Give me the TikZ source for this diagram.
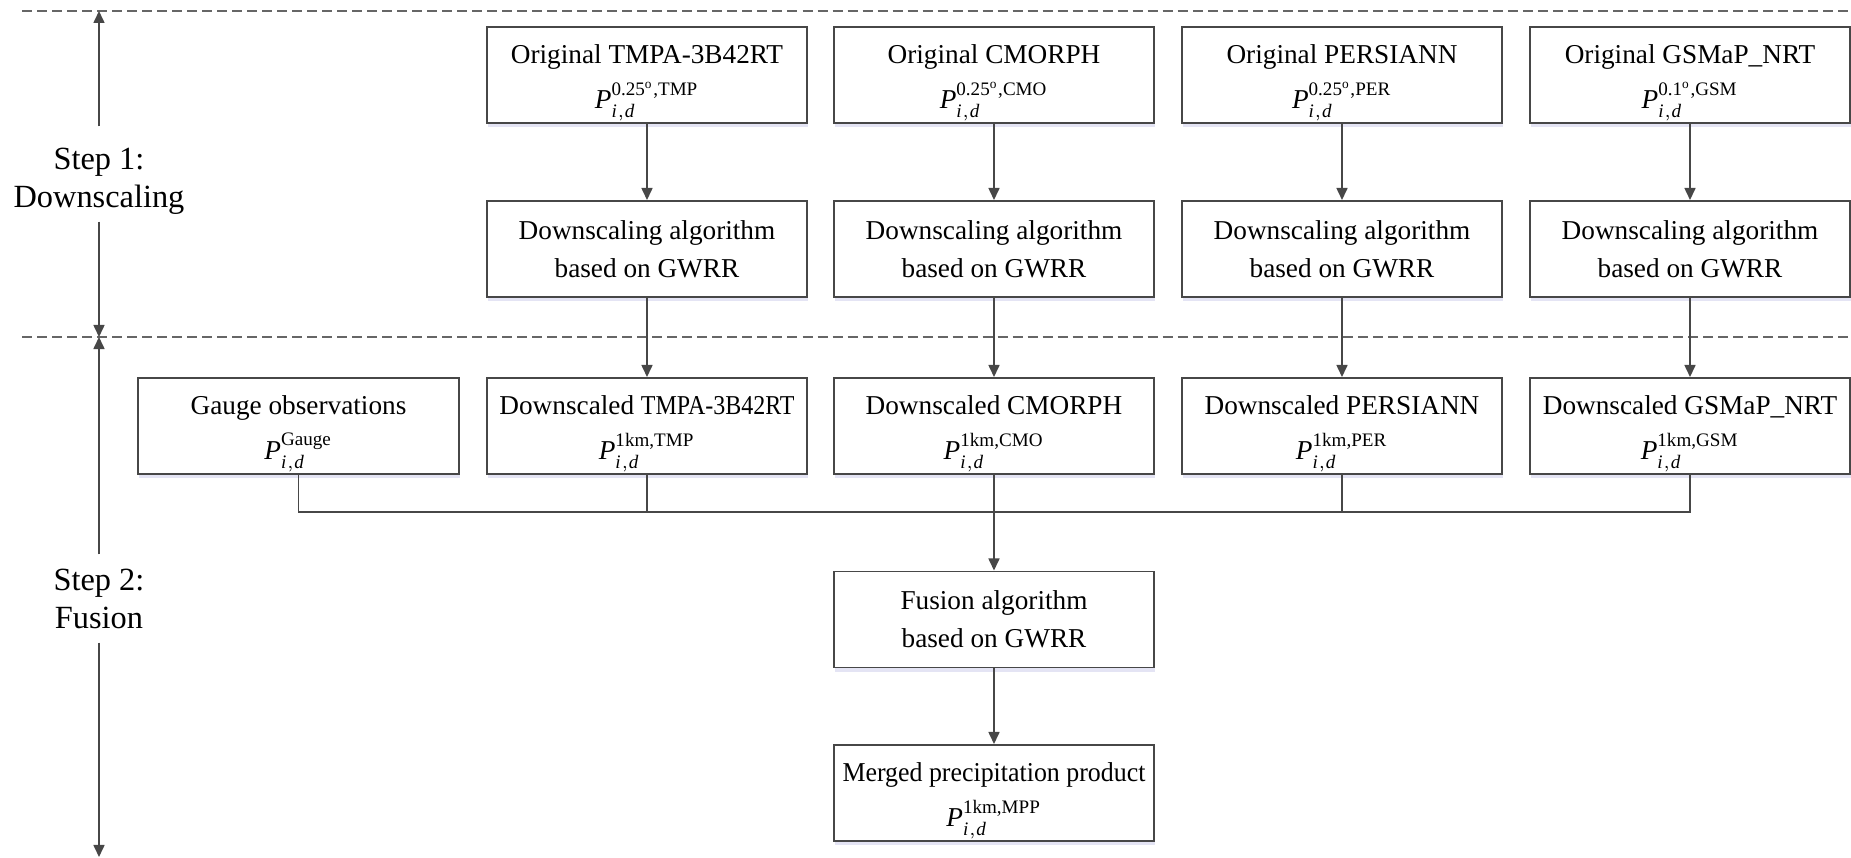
\documentclass[tikz,border=0pt]{standalone}
\usepackage{amsmath}
\usepackage{graphicx}
\usepackage{fontspec}
\setmainfont{Liberation Serif}
\usetikzlibrary{arrows.meta,shadows}
\newcommand\Pvar[1]{$\mathit{P}_{\mathit{i,d}}^{\text{#1}}$}
\newcommand\dg{\textsuperscript{o}}
\newcommand\sstrut{\rule{0pt}{10.3pt}}
\newcommand\twoline[2]{\raisebox{-3pt}[0pt][0pt]{\begin{tabular}{@{}c@{}}#1\\[2pt]#2\end{tabular}}}
\begin{document}
\begin{tikzpicture}[x=0.01cm,y=-0.01cm,
  box/.style={draw=black!72, line width=0.55pt, fill=white, minimum width=3.2cm,
    minimum height=0.96cm, inner sep=0pt, align=center,
    font=\fontsize{7.75}{10.8}\selectfont,
    drop shadow={shadow xshift=0.3pt, shadow yshift=-1.2pt, opacity=0.15, fill=blue!40!gray}},
  conn/.style={draw=black!72, line width=0.45pt},
  arr/.style={conn, -{Triangle[length=0.12cm,width=0.11cm]}},
  sepline/.style={draw=black!60, line width=0.5pt, dash pattern=on 0.1cm off 0.05cm},
  steplabel/.style={inner sep=0pt, align=center, font=\fontsize{9.2}{10.8}\selectfont}
]
\useasboundingbox (0,0) rectangle (1851,858);
% separators
\coordinate (L1) at (22,11); \coordinate (R1) at (1851,11);
\coordinate (L2) at (22,337); \coordinate (R2) at (1851,337);
\draw[sepline] (L1) -- (R1);
\draw[sepline] (L2) -- (R2);
% step labels
\node[steplabel, minimum height=0.94cm] (s1) at (99,174) {\sstrut Step 1:\\Downscaling};
\node[steplabel, minimum height=0.87cm] (s2) at (99,598.5) {Step 2:\\Fusion};
\coordinate (s1top) at (99,11);
\coordinate (mid) at (99,337);
\coordinate (s2bot) at (99,857);
\draw[arr] (s1) -- (s1top);
\draw[arr] (s1) -- (mid);
\draw[arr] (s2) -- (mid);
\draw[arr] (s2) -- (s2bot);
% row 1
\node[box] (o1) at (647,75) {\twoline{Original TMPA-3B42RT}{\Pvar{0.25\dg,TMP}}};
\node[box] (o2) at (994,75) {\twoline{Original CMORPH}{\Pvar{0.25\dg,CMO}}};
\node[box] (o3) at (1342,75) {\twoline{Original PERSIANN}{\Pvar{0.25\dg,PER}}};
\node[box] (o4) at (1690,75) {\twoline{Original GSMaP\_NRT}{\Pvar{0.1\dg,GSM}}};
% row 2
\node[box] (a1) at (647,249) {Downscaling algorithm\\based on GWRR};
\node[box] (a2) at (994,249) {Downscaling algorithm\\based on GWRR};
\node[box] (a3) at (1342,249) {Downscaling algorithm\\based on GWRR};
\node[box] (a4) at (1690,249) {Downscaling algorithm\\based on GWRR};
% row 3
\node[box] (g) at (298.5,426) {\twoline{Gauge observations}{\Pvar{Gauge}}};
\node[box] (d1) at (647,426) {\twoline{Downscaled \scalebox{0.88}[1]{TMPA-3B42RT}}{\Pvar{1km,TMP}}};
\node[box] (d2) at (994,426) {\twoline{Downscaled CMORPH}{\Pvar{1km,CMO}}};
\node[box] (d3) at (1342,426) {\twoline{Downscaled PERSIANN}{\Pvar{1km,PER}}};
\node[box] (d4) at (1690,426) {\twoline{Downscaled GSMaP\_NRT}{\Pvar{1km,GSM}}};
% fusion
\node[box] (f) at (994,619.5) {Fusion algorithm\\based on GWRR};
\node[box] (m) at (994,793) {\twoline{\scalebox{0.95}[1]{Merged precipitation product}}{\Pvar{1km,MPP}}};
% connectors
\foreach \i in {1,2,3,4} {
  \draw[arr] (o\i) -- (a\i);
  \draw[arr] (a\i) -- (d\i);
}
\coordinate (bus) at (994,512);
\draw[conn] (g.south) |- (bus);
\draw[conn] (d4.south) |- (bus);
\draw[conn] (d1.south) -- (d1.south |- bus);
\draw[conn] (d3.south) -- (d3.south |- bus);
\draw[arr] (d2) -- (f);
\draw[arr] (f) -- (m);
\end{tikzpicture}
\end{document}
